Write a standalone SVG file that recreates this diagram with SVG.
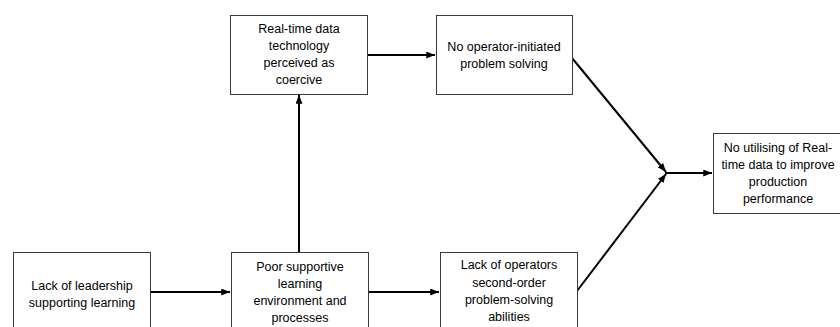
<svg xmlns="http://www.w3.org/2000/svg" width="840" height="327" viewBox="0 0 840 327">
<style>
.box{fill:#fff;stroke:#3a3a3a;stroke-width:1}
.t{font-family:"Liberation Sans",Arial,sans-serif;font-size:12.5px;fill:#000;text-anchor:middle}
.c{stroke:#000;stroke-width:2;fill:none}
</style>
<defs>
<marker id="ah" viewBox="0 0 10 8" refX="10" refY="4" markerWidth="9" markerHeight="7" markerUnits="userSpaceOnUse" orient="auto">
<path d="M0,0 L10,4 L0,8 Z" fill="#000"/>
</marker>
</defs>
<rect width="840" height="327" fill="#fff"/>
<g id="connectors">
<line class="c" x1="150" y1="292" x2="230" y2="292" marker-end="url(#ah)"/>
<line class="c" x1="368" y1="292" x2="439" y2="292" marker-end="url(#ah)"/>
<line class="c" x1="299" y1="252" x2="299" y2="95" marker-end="url(#ah)"/>
<line class="c" x1="367" y1="55" x2="435" y2="55" marker-end="url(#ah)"/>
<line class="c" x1="572" y1="58" x2="666" y2="172" marker-end="url(#ah)"/>
<line class="c" x1="577" y1="291" x2="666" y2="174" marker-end="url(#ah)"/>
<line class="c" x1="665" y1="173" x2="712" y2="173" marker-end="url(#ah)"/>
</g>
<g id="n1">
<rect class="box" x="13.5" y="252.5" width="137" height="90"/>
<text class="t" x="82" y="290">Lack of leadership</text>
<text class="t" x="82" y="307">supporting learning</text>
</g>
<g id="n2">
<rect class="box" x="231.5" y="252.5" width="137" height="90"/>
<text class="t" x="300" y="271">Poor supportive</text>
<text class="t" x="300" y="288">learning</text>
<text class="t" x="300" y="305">environment and</text>
<text class="t" x="300" y="322">processes</text>
</g>
<g id="n3">
<rect class="box" x="440.5" y="252.5" width="137" height="90"/>
<text class="t" x="509" y="269">Lack of operators</text>
<text class="t" x="509" y="287">second-order</text>
<text class="t" x="509" y="304">problem-solving</text>
<text class="t" x="509" y="321">abilities</text>
</g>
<g id="n4">
<rect class="box" x="230.5" y="15.5" width="137" height="79"/>
<text class="t" x="299" y="33">Real-time data</text>
<text class="t" x="299" y="50">technology</text>
<text class="t" x="299" y="67">perceived as</text>
<text class="t" x="299" y="84">coercive</text>
</g>
<g id="n5">
<rect class="box" x="436.5" y="15.5" width="136" height="79"/>
<text class="t" x="504" y="51">No operator-initiated</text>
<text class="t" x="504" y="68">problem solving</text>
</g>
<g id="n6">
<rect class="box" x="713.5" y="133.5" width="130" height="80"/>
<text class="t" x="778" y="152">No utilising of Real-</text>
<text class="t" x="778" y="169">time data to improve</text>
<text class="t" x="778" y="186">production</text>
<text class="t" x="778" y="203">performance</text>
</g>
</svg>
